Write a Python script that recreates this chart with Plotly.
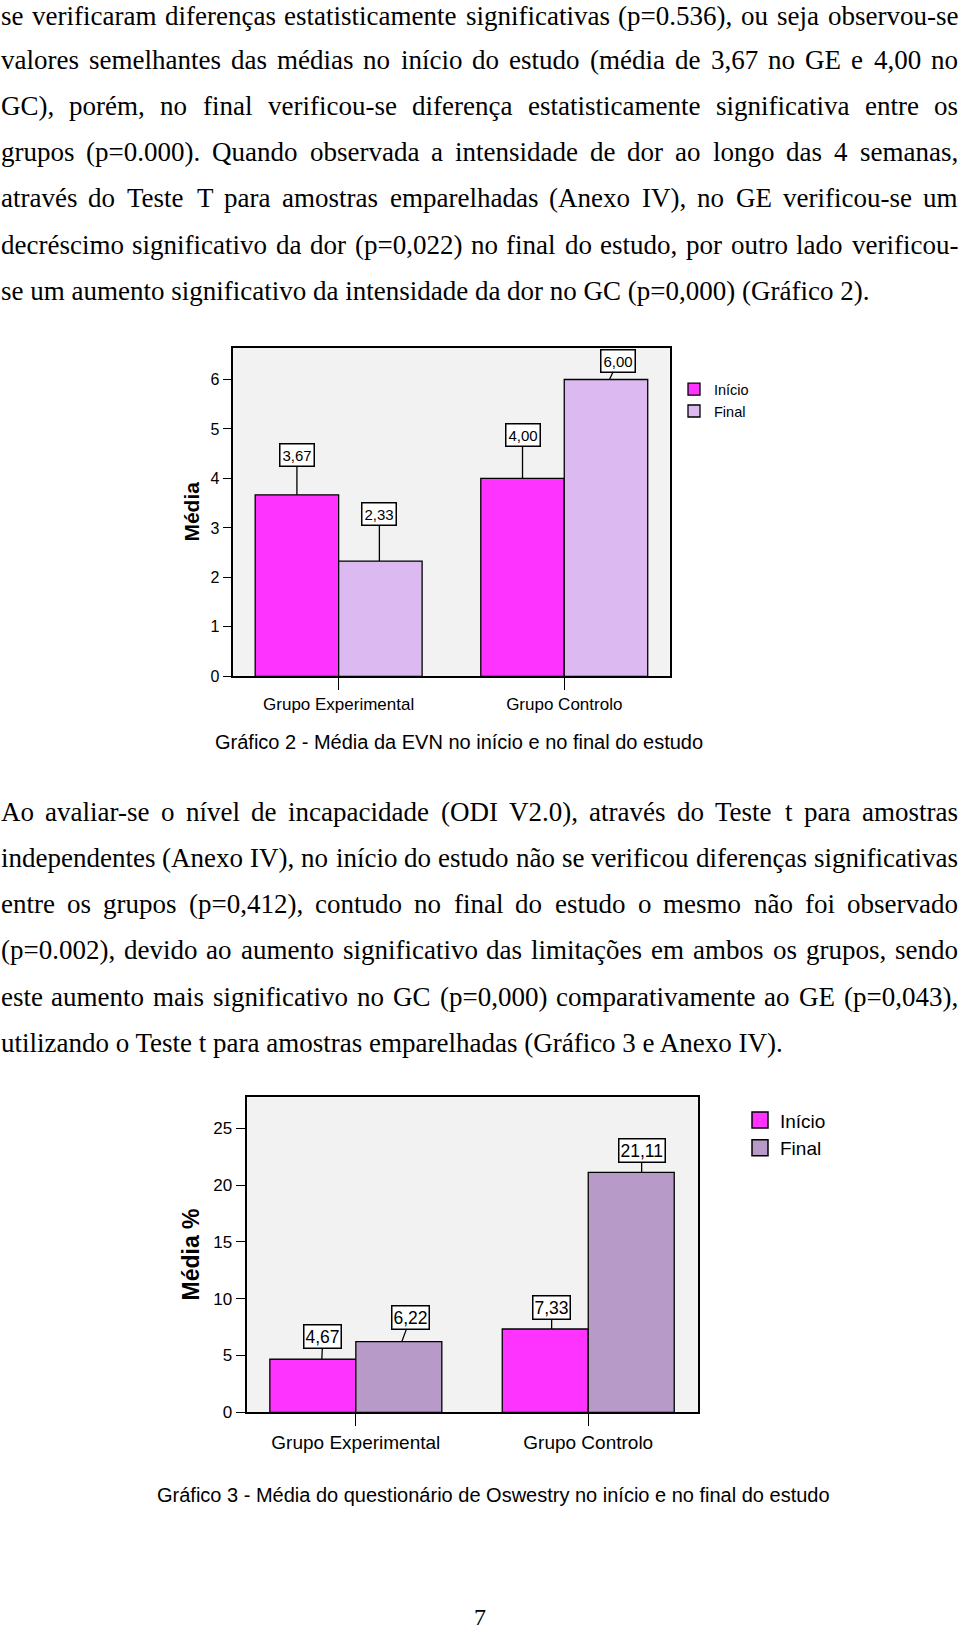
import unicodedata
import plotly.graph_objects as go

# ---------------- data ----------------
categories = ["Grupo Experimental", "Grupo Controlo"]
series_names = ["Início", "Final"]

evn_inicio = [3.67, 4.00]
evn_final = [2.33, 6.00]
evn_yticks = [0, 1, 2, 3, 4, 5, 6]

odi_inicio = [4.67, 7.33]
odi_final = [6.22, 21.11]
odi_yticks = [0, 5, 10, 15, 20, 25]

evn_ytitle = "Média"
odi_ytitle = "Média %"
caption2 = "Gráfico 2 - Média da EVN no início e no final do estudo"
caption3 = "Gráfico 3 - Média do questionário de Oswestry no início e no final do estudo"
page_number = "7"

paragraph1 = [
    "se verificaram diferenças estatisticamente significativas (p=0.536), ou seja observou-se",
    "valores semelhantes das médias no início do estudo (média de 3,67 no GE e 4,00 no",
    "GC), porém, no final verificou-se diferença estatisticamente significativa entre os",
    "grupos (p=0.000). Quando observada a intensidade de dor ao longo das 4 semanas,",
    "através do Teste T para amostras emparelhadas (Anexo IV), no GE verificou-se um",
    "decréscimo significativo da dor (p=0,022) no final do estudo, por outro lado verificou-",
    "se um aumento significativo da intensidade da dor no GC (p=0,000) (Gráfico 2).",
]
paragraph2 = [
    "Ao avaliar-se o nível de incapacidade (ODI V2.0), através do Teste t para amostras",
    "independentes (Anexo IV), no início do estudo não se verificou diferenças significativas",
    "entre os grupos (p=0,412), contudo no final do estudo o mesmo não foi observado",
    "(p=0.002), devido ao aumento significativo das limitações em ambos os grupos, sendo",
    "este aumento mais significativo no GC (p=0,000) comparativamente ao GE (p=0,043),",
    "utilizando o Teste t para amostras emparelhadas (Gráfico 3 e Anexo IV).",
]

# ---------------- layout constants ----------------
FW, FH = 960, 1639
C_INI = "#FF33FF"
C_FIN1 = "#DCB9F0"
C_FIN2 = "#B89AC8"
PLOT_BG = "#F2F2F2"
SANS = "Liberation Sans, Arial, sans-serif"
SERIF = "Liberation Serif, Times New Roman, serif"

def px_x(v):
    return v / FW

def px_y(v):
    return 1 - v / FH

# chart 1 plot box (page px)
c1_left, c1_right, c1_top, c1_bottom = 233.3, 669.6, 350.0, 680.5
c1_xrange = [-0.467, 1.467]
c1_yrange = [0, 6.64]
# chart 2 plot box (page px)
c2_left, c2_right, c2_top, c2_bottom = 247.3, 697.7, 1104.0, 1421.0
c2_xrange = [-0.467, 1.471]
c2_yrange = [0, 27.72]

BARGAP = 0.26
HALF = (1 - BARGAP) / 4.0  # half of one bar, in category units

fig = go.Figure()

line_style = dict(color="black", width=1.3)
fig.add_trace(go.Bar(x=categories, y=evn_inicio, name=series_names[0],
                     marker=dict(color=C_INI, line=line_style),
                     xaxis="x", yaxis="y", legend="legend"))
fig.add_trace(go.Bar(x=categories, y=evn_final, name=series_names[1],
                     marker=dict(color=C_FIN1, line=line_style),
                     xaxis="x", yaxis="y", legend="legend"))
fig.add_trace(go.Bar(x=categories, y=odi_inicio, name=series_names[0],
                     marker=dict(color=C_INI, line=line_style), showlegend=False,
                     xaxis="x2", yaxis="y2"))
fig.add_trace(go.Bar(x=categories, y=odi_final, name=series_names[1],
                     marker=dict(color=C_FIN2, line=line_style), showlegend=False,
                     xaxis="x2", yaxis="y2"))
# legend entries for chart 2 (larger swatches)
for nm, col in zip(series_names, [C_INI, C_FIN2]):
    fig.add_trace(go.Scatter(x=[None], y=[None], mode="markers", name=nm,
                             marker=dict(symbol="square", size=16, color=col,
                                         line=dict(color="black", width=1.5)),
                             xaxis="x2", yaxis="y2", legend="legend2",
                             hoverinfo="skip"))

def xax(dom, rng, fsize, anchor):
    return dict(domain=dom, range=rng, type="category", anchor=anchor,
                showline=True, linecolor="black", linewidth=1.5, mirror=True,
                ticks="outside", ticklen=12, tickwidth=1.3, tickcolor="black",
                showgrid=False, zeroline=False, fixedrange=True,
                tickfont=dict(family=SANS, size=fsize, color="black"))

def yax(dom, rng, tv, fsize, tlen, anchor):
    return dict(domain=dom, range=rng, tickvals=tv, anchor=anchor,
                showline=True, linecolor="black", linewidth=1.5, mirror=True,
                ticks="outside", ticklen=tlen, tickwidth=1.3, tickcolor="black",
                showgrid=False, zeroline=False, fixedrange=True,
                tickfont=dict(family=SANS, size=fsize, color="black"))

annotations = []

# ---------- value labels ----------
def fmt(v):
    return f"{v:.2f}".replace(".", ",")

# per label: (extra x shift of anchor px, ax px, ay px) -- positions only
c1_offsets = {(0, 0): (0, 0, -39.5), (1, 0): (-1, 0, -46.6),
              (0, 1): (0, 0, -43), (1, 1): (3.5, 9, -19)}
c2_offsets = {(0, 0): (9, 1, -23), (1, 0): (3, 9, -24.5),
              (0, 1): (6.4, 0, -21.3), (1, 1): (10.4, 0, -22)}

def add_labels(series, xref, yref, left, right, xrange, offsets, fsize, pad):
    ppu = (right - left) / (xrange[1] - xrange[0])
    half_px = HALF * ppu
    for s, vals in enumerate(series):
        sign = -1 if s == 0 else 1
        for i, v in enumerate(vals):
            ex, ax, ay = offsets[(s, i)]
            annotations.append(dict(
                x=categories[i], y=v, xref=xref, yref=yref, text=fmt(v),
                xshift=sign * half_px + ex, showarrow=True, arrowhead=0,
                arrowwidth=1.3, arrowcolor="black", ax=ax, ay=ay,
                bgcolor="white", bordercolor="black", borderwidth=1.5,
                borderpad=pad, font=dict(family=SANS, size=fsize, color="black")))

add_labels([evn_inicio, evn_final], "x", "y", c1_left, c1_right, c1_xrange,
           c1_offsets, 15, 2)
add_labels([odi_inicio, odi_final], "x2", "y2", c2_left, c2_right, c2_xrange,
           c2_offsets, 17.5, 1)

# ---------- axis titles, captions ----------
def centered(text, x, y, family, size, angle=0):
    annotations.append(dict(x=px_x(x), y=px_y(y), xref="paper", yref="paper",
                            xanchor="center", yanchor="middle", text=text,
                            textangle=angle, showarrow=False,
                            font=dict(family=family, size=size, color="black")))

centered(f"<b>{evn_ytitle}</b>", 191.7, 515, SANS, 21, -90)
centered(f"<b>{odi_ytitle}</b>", 190.7, 1262.5, SANS, 23, -90)
centered(caption2, 459, 747, SANS, 20)
centered(caption3, 493, 1504, SANS, 20)
centered(page_number, 480, 1627, SERIF, 24)

# ---------- justified body text ----------
TIMES = {' ': 250, '!': 333, '(': 333, ')': 333, ',': 250, '-': 333, '.': 250,
         '=': 564, '%': 833, ':': 278, ';': 278,
         'A': 722, 'B': 667, 'C': 667, 'D': 722, 'E': 611, 'F': 556, 'G': 722,
         'H': 722, 'I': 333, 'J': 389, 'K': 722, 'L': 611, 'M': 889, 'N': 722,
         'O': 722, 'P': 556, 'Q': 722, 'R': 667, 'S': 556, 'T': 611, 'U': 722,
         'V': 722, 'W': 944, 'X': 722, 'Y': 722, 'Z': 611,
         'a': 444, 'b': 500, 'c': 444, 'd': 500, 'e': 444, 'f': 333, 'g': 500,
         'h': 500, 'i': 278, 'j': 278, 'k': 500, 'l': 278, 'm': 778, 'n': 500,
         'o': 500, 'p': 500, 'q': 500, 'r': 333, 's': 389, 't': 278, 'u': 500,
         'v': 500, 'w': 722, 'x': 500, 'y': 500, 'z': 444}
for d in "0123456789":
    TIMES[d] = 500

def text_w(s, size):
    tot = 0
    for ch in s:
        base = unicodedata.normalize("NFD", ch)[0]
        tot += TIMES.get(base, 500)
    return tot * size / 1000.0

BODY = 27
LEFT, RIGHT = 0.5, 958.0
LINE_H = 46.55
TOP_SAFE = 16.0   # keep first line's box inside the page

def add_paragraph(lines, y0):
    for k, line in enumerate(lines):
        yc = max(y0 + k * LINE_H, TOP_SAFE)
        if k == len(lines) - 1:
            annotations.append(dict(x=px_x(LEFT), y=px_y(yc), xref="paper", yref="paper",
                                    xanchor="left", yanchor="middle", text=line,
                                    showarrow=False, borderpad=0, borderwidth=0,
                                    font=dict(family=SERIF, size=BODY, color="black")))
            continue
        words = line.split(" ")
        ws = [text_w(w, BODY) for w in words]
        gap = (RIGHT - LEFT - sum(ws)) / (len(words) - 1)
        x = LEFT
        for w, wd in zip(words, ws):
            annotations.append(dict(x=px_x(x), y=px_y(yc), xref="paper", yref="paper",
                                    xanchor="left", yanchor="middle", text=w,
                                    showarrow=False, borderpad=0, borderwidth=0,
                                    font=dict(family=SERIF, size=BODY, color="black")))
            x += wd + gap

add_paragraph(paragraph1, 13.5)
add_paragraph(paragraph2, 816.5)

fig.update_layout(
    width=FW, height=FH, autosize=False,
    margin=dict(l=0, r=0, t=0, b=0),
    paper_bgcolor="white", plot_bgcolor=PLOT_BG,
    barmode="group", bargap=BARGAP, bargroupgap=0,
    showlegend=True,
    xaxis=xax([px_x(c1_left), px_x(c1_right)], c1_xrange, 17, "y"),
    yaxis=yax([px_y(c1_bottom), px_y(c1_top)], c1_yrange, evn_yticks, 16, 9, "x"),
    xaxis2=xax([px_x(c2_left), px_x(c2_right)], c2_xrange, 19, "y2"),
    yaxis2=yax([px_y(c2_bottom), px_y(c2_top)], c2_yrange, odi_yticks, 17, 10, "x2"),
    legend=dict(x=px_x(674), xanchor="left", y=px_y(375.5), yanchor="top",
                bgcolor="rgba(0,0,0,0)", borderwidth=0, tracegroupgap=0,
                font=dict(family=SANS, size=14.5, color="black")),
    legend2=dict(x=px_x(740), xanchor="left", y=px_y(1108), yanchor="top",
                 bgcolor="rgba(0,0,0,0)", borderwidth=0, tracegroupgap=0,
                 font=dict(family=SANS, size=19, color="black")),
    annotations=annotations,
)

page_css = (
    "var h=document.documentElement, b=document.body;"
    "h.style.margin='0'; h.style.padding='0'; h.style.overflow='hidden';"
    "h.style.height='1639px';"
    "b.style.margin='0'; b.style.padding='0'; b.style.overflow='hidden';"
    "b.style.height='1639px'; b.style.lineHeight='0';"
)

fig.write_html("out.html", config={"displayModeBar": False}, post_script=page_css)
